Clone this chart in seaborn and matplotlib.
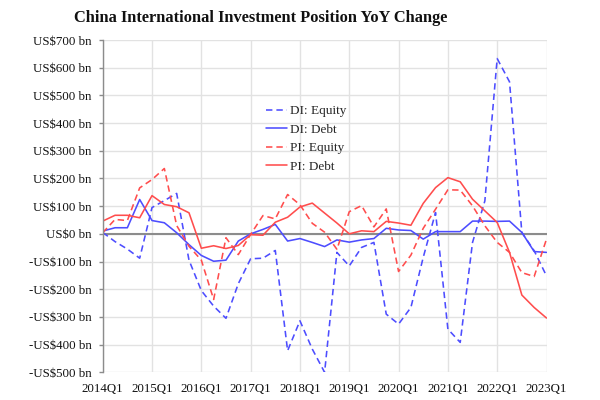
import matplotlib
matplotlib.use("Agg")
import matplotlib.pyplot as plt
from matplotlib.ticker import FuncFormatter, FixedLocator
import seaborn as sns
import pandas as pd

quarters = [f"{y}Q{q}" for y in range(2014, 2024) for q in range(1, 5)][:37]
tick_labels = [f"{y}Q1" for y in range(2014, 2024)]

di_equity = [5, -28, -55, -88, 95, 120, 146, -95, -205, -261, -305, -180, -90, -88,
             -60, -422, -314, -416, -500, -67, -116, -49, -31, -290, -326, -266, -85,
             77, -344, -392, -31, 119, 633, 549, 5, -61, -152]
di_debt = [10, 22, 22, 124, 48, 40, 4, -39, -78, -99, -95, -26, 0, 16,
           34, -26, -17, -31, -46, -22, -30, -22, -17, 20, 14, 12, -19,
           8, 8, 8, 46, 46, 45, 46, 5, -64, -67]
pi_equity = [4, 52, 48, 166, 196, 236, 30, -45, -95, -237, -14, -75, -2, 66,
             54, 142, 105, 38, 6, -56, 80, 102, 25, 90, -136, -77, 20,
             89, 159, 158, 101, 29, -31, -67, -140, -154, -19]
pi_debt = [46, 67, 67, 58, 138, 106, 98, 76, -52, -43, -53, -42, -3, -5,
           42, 60, 97, 111, 75, 39, 0, 11, 8, 45, 39, 31, 110,
           167, 203, 188, 125, 83, 41, -67, -221, -266, -304]

series_names = ["DI: Equity", "DI: Debt", "PI: Equity", "PI: Debt"]
series_values = [di_equity, di_debt, pi_equity, pi_debt]

rows = []
for name, vals in zip(series_names, series_values):
    for i, v in enumerate(vals):
        rows.append({"q": i, "quarter": quarters[i], "series": name, "value": v})
df = pd.DataFrame(rows)

sns.set_style("white")
plt.rcParams["font.family"] = ["Liberation Serif", "DejaVu Serif"]

BLUE = "#4d4dff"
RED = "#ff4d4d"
palette = {"DI: Equity": BLUE, "DI: Debt": BLUE, "PI: Equity": RED, "PI: Debt": RED}
dashes = {"DI: Equity": (4, 2.5), "DI: Debt": "", "PI: Equity": (4, 2.5), "PI: Debt": ""}

fig = plt.figure(figsize=(6, 4), dpi=100)
ax = fig.add_axes([102.7 / 600, 1 - 372.3 / 400, (546.5 - 102.7) / 600, (372.3 - 40) / 400])

sns.lineplot(data=df, x="q", y="value", hue="series", style="series",
             hue_order=series_names, style_order=series_names,
             palette=palette, dashes=dashes, linewidth=1.15, estimator=None,
             ax=ax, zorder=3)

ax.set_xlim(0, 36)
ax.set_ylim(-500, 700)
ax.xaxis.set_major_locator(FixedLocator(list(range(0, 37, 4))))
ax.set_xticklabels(tick_labels)
ax.yaxis.set_major_locator(FixedLocator(list(range(-500, 701, 100))))
ax.yaxis.set_major_formatter(FuncFormatter(
    lambda v, p: f"US${v:.0f} bn" if v >= 0 else f"-US${-v:.0f} bn"))

ax.grid(True, color="#e2e2e2", linewidth=1.0, zorder=0)
ax.set_axisbelow(True)
ax.axhline(0, color="#8c8c8c", linewidth=1.5, zorder=2)

for s in ["top", "right", "bottom"]:
    ax.spines[s].set_visible(False)
ax.spines["left"].set_color("#8c8c8c")
ax.spines["left"].set_linewidth(1.0)
ax.spines["left"].set_zorder(4)

ax.tick_params(axis="y", which="major", left=True, length=3, width=1.0,
               color="#8c8c8c", pad=5, labelsize=9.3, labelcolor="#111111")
ax.tick_params(axis="x", which="major", bottom=False, length=0, pad=8,
               labelsize=9.3, labelcolor="#111111")
ax.set_xlabel("")
ax.set_ylabel("")

handles, labels = ax.get_legend_handles_labels()
ax.legend(handles, labels, loc="upper left",
          bbox_to_anchor=((266 - 102.7) / 443.8, 1 - (105 - 40) / 332.3),
          frameon=False, fontsize=9.5, borderpad=0, borderaxespad=0,
          handlelength=1.6, handletextpad=0.2, labelspacing=0.48)

fig.text(261 / 600, 1 - 18.5 / 400, "China International Investment Position YoY Change",
         ha="center", va="center", fontsize=11.8, fontweight="bold", color="#111111")

fig.savefig("out.png", dpi=100)
